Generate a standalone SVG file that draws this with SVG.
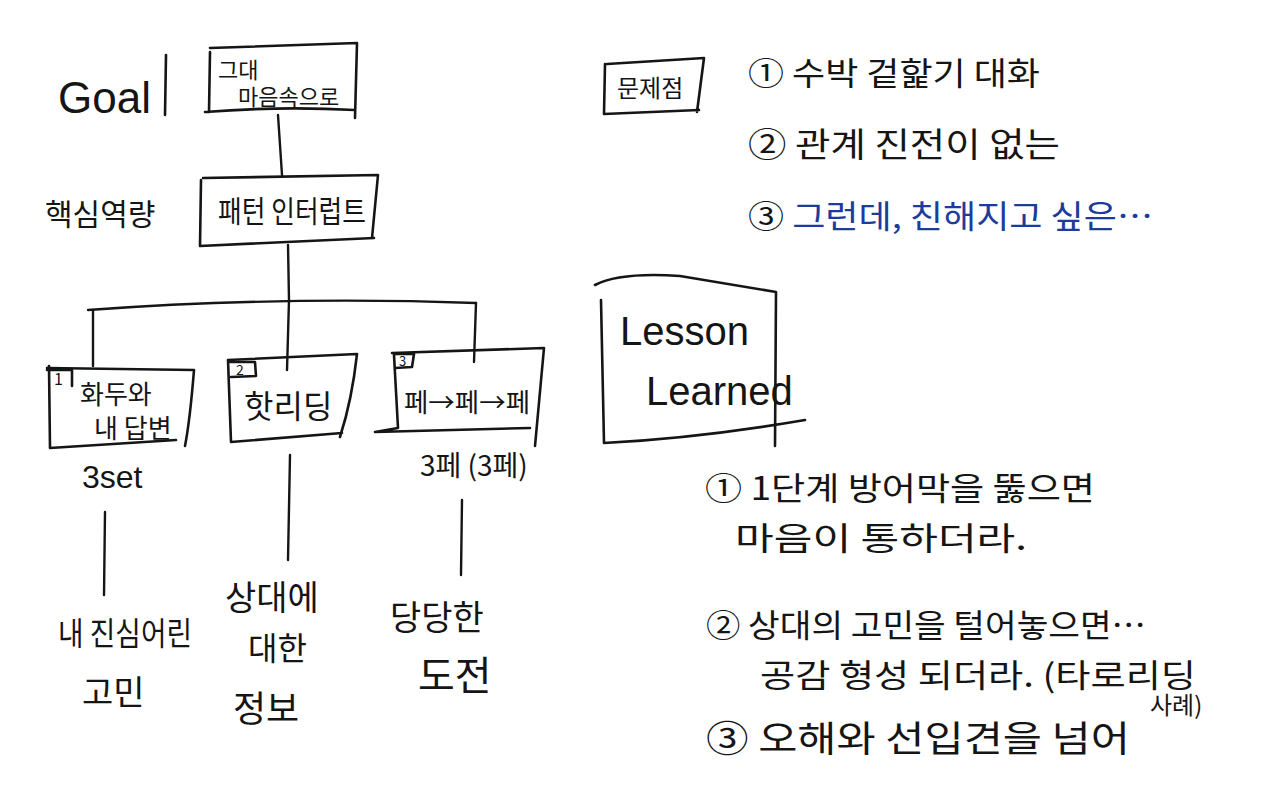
<svg xmlns="http://www.w3.org/2000/svg" width="1280" height="803" viewBox="0 0 1280 803">
<style>
.t{font-family:"Noto Sans CJK KR","Noto Sans",sans-serif;fill:#151515;}
.e{font-family:"Liberation Sans",Arial,sans-serif;fill:#151515;}
.b{fill:none;stroke:#151515;stroke-width:2.6;stroke-linecap:round;stroke-linejoin:round;}
.c{fill:none;stroke:#151515;stroke-width:2.4;stroke-linecap:round;}
.blue{fill:#1c3c9c;}
</style>
<rect width="1280" height="803" fill="#ffffff"/>

<g id="goal-label">
<text class="e" x="58" y="113" font-size="44">Goal</text>
<path class="b" d="M166 55 L165 115"/>
</g>

<g id="goal-box">
<path class="b" d="M210 48 L357 43 L355 118 M210 52 L209 112 M205 112 Q280 106 355 110"/>
<text class="t" x="218" y="78" font-size="22">그대</text>
<text class="t" x="238" y="105" font-size="22">마음속으로</text>
</g>

<g id="core-label">
<text class="t" x="45" y="225" font-size="30">핵심역량</text>
</g>

<g id="pattern-box">
<path class="b" d="M203 178 L378 175 L372 238 M201 180 L200 246 L374 238"/>
<text class="t" x="218" y="222" font-size="30" textLength="148" lengthAdjust="spacingAndGlyphs">패턴 인터럽트</text>
</g>

<g id="node1">
<path class="b" d="M47 368 L194 370 Q190 420 185 446 M49 366 L50 448 L176 440"/>
<path class="b" d="M47 370 L72 370 L72 386"/>
<text class="t" x="54" y="385" font-size="16">1</text>
<text class="t" x="80" y="404" font-size="26">화두와</text>
<text class="t" x="94" y="438" font-size="26">내 답변</text>
</g>

<g id="node2">
<path class="b" d="M228 360 L357 354 Q352 400 340 437 M228 360 L231 442 L342 433"/>
<path class="b" d="M230 362 L255 362 L256 376 L231 377"/>
<text class="t" x="236" y="375" font-size="14">2</text>
<text class="t" x="244" y="418" font-size="32">핫리딩</text>
</g>

<g id="node3">
<path class="b" d="M392 353 L544 348 L535 446 M394 355 L398 428 L375 432 L530 428"/>
<path class="b" d="M394 354 L414 354 L412 367 L395 368"/>
<text class="t" x="399" y="366" font-size="13">3</text>
<text class="t" x="404" y="412" font-size="26" textLength="126" lengthAdjust="spacingAndGlyphs">페→페→페</text>
</g>

<g id="connectors">
<path class="c" d="M278 115 L282 175"/>
<path class="c" d="M288 245 L289 300 L287 370"/>
<path class="c" d="M88 310 Q280 296 476 303"/>
<path class="c" d="M93 310 L93 366"/>
<path class="c" d="M476 303 L474 362"/>
<path class="c" d="M105 512 L104 595"/>
<path class="c" d="M290 455 L288 560"/>
<path class="c" d="M462 500 L461 575"/>
</g>

<g id="labels-mid">
<text class="e" x="82" y="488" font-size="32">3set</text>
<text class="t" x="420" y="476" font-size="28">3페 (3페)</text>
</g>

<g id="leaf1">
<text class="t" x="58" y="645" font-size="32" textLength="134" lengthAdjust="spacingAndGlyphs">내 진심어린</text>
<text class="t" x="82" y="705" font-size="34">고민</text>
</g>

<g id="leaf2">
<text class="t" x="225" y="610" font-size="34">상대에</text>
<text class="t" x="248" y="660" font-size="32">대한</text>
<text class="t" x="233" y="722" font-size="36">정보</text>
</g>

<g id="leaf3">
<text class="t" x="390" y="630" font-size="34">당당한</text>
<text class="t" x="418" y="690" font-size="40">도전</text>
</g>

<g id="problem-box">
<path class="b" d="M607 64 L704 58 L697 112 M605 64 L604 114 L699 110"/>
<text class="t" x="617" y="97" font-size="24">문제점</text>
</g>

<g id="problems">
<text class="t" x="748" y="85" font-size="32" textLength="292" lengthAdjust="spacingAndGlyphs">① 수박 겉핥기 대화</text>
<text class="t" x="748" y="157" font-size="34" textLength="312" lengthAdjust="spacingAndGlyphs">② 관계 진전이 없는</text>
<text class="t" x="748" y="228" font-size="32" textLength="405" lengthAdjust="spacingAndGlyphs"><tspan fill="#151515">③</tspan><tspan class="blue"> 그런데, 친해지고 싶은…</tspan></text>
</g>

<g id="lesson-box">
<path class="b" d="M595 285 Q620 272 680 276 L776 292 L775 446 M601 300 L604 443 Q700 438 805 420"/>
<text class="e" x="620" y="345" font-size="40">Lesson</text>
<text class="e" x="646" y="405" font-size="40">Learned</text>
</g>

<g id="lessons">
<text class="t" x="705" y="500" font-size="32" textLength="390" lengthAdjust="spacingAndGlyphs">① 1단계 방어막을 뚫으면</text>
<text class="t" x="735" y="550" font-size="32" textLength="292" lengthAdjust="spacingAndGlyphs">마음이 통하더라.</text>
<text class="t" x="706" y="637" font-size="32" textLength="440" lengthAdjust="spacingAndGlyphs">② 상대의 고민을 털어놓으면…</text>
<text class="t" x="760" y="687" font-size="32" textLength="436" lengthAdjust="spacingAndGlyphs">공감 형성 되더라. (타로리딩</text>
<text class="t" x="1150" y="714" font-size="24">사례)</text>
<text class="t" x="706" y="752" font-size="36" textLength="424" lengthAdjust="spacingAndGlyphs">③ 오해와 선입견을 넘어</text>
</g>
</svg>
